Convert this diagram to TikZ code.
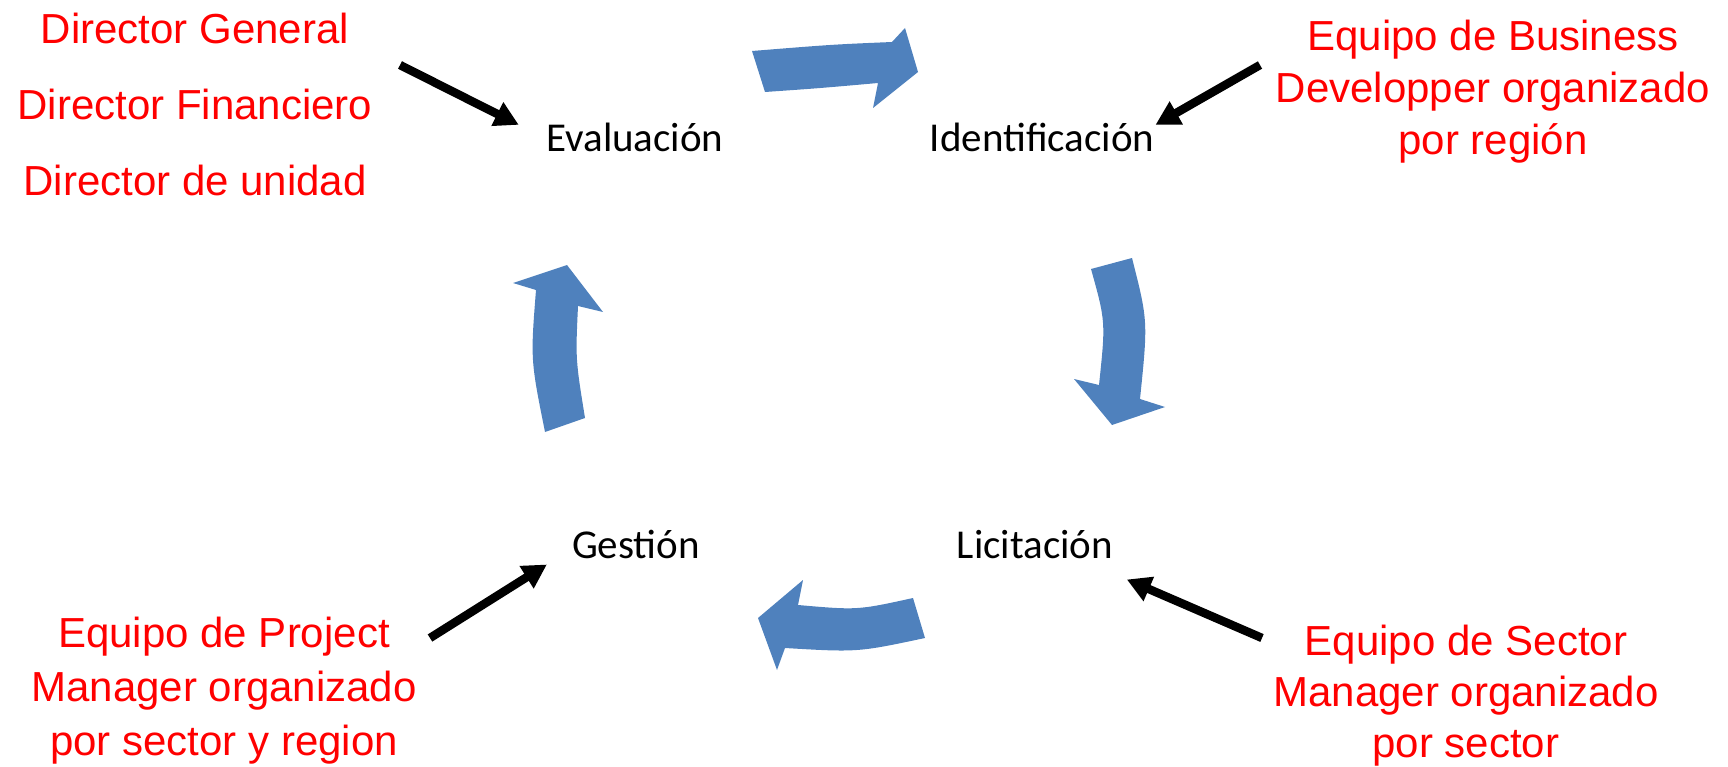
\documentclass[tikz,border=0pt]{standalone}
\usepackage{fontspec}
\setmainfont{Carlito}
\newfontfamily\rolefont{Liberation Sans}
\usetikzlibrary{arrows.meta}
\definecolor{cycleblue}{RGB}{79,129,189}
\definecolor{rolered}{RGB}{255,0,0}
\tikzset{
  phase/.style={anchor=base, inner sep=0pt, font=\fontsize{41}{49}\selectfont},
  role/.style={anchor=base, inner sep=0pt, align=center, text=rolered,
    font=\rolefont\fontsize{42}{52}\selectfont},
  pointer/.style={line width=8.5pt, -{Triangle[length=24pt,width=25pt]}},
  cyclearrow/.style={fill=cycleblue}
}

\begin{document}
\begin{tikzpicture}[x=1pt,y=-1pt]
        \useasboundingbox (0,0) rectangle (1728,767);
        \node[phase] (evaluacion)     at (635,152)  {Evaluación};
        \node[phase] (identificacion) at (1042,152) {Identificación};
        \node[phase] (gestion)        at (636,558)  {Gestión};
        \node[phase] (licitacion)     at (1035,558) {Licitación};
        \node[role, font=\rolefont\fontsize{42}{76}\selectfont] (directores) at (195,196)
            {Director General\\Director Financiero\\Director de unidad};
        \node[role] (business) at (1493,155) {Equipo de Business\\Developper organizado\\por región};
        \node[role, font=\rolefont\fontsize{42}{54}\selectfont] (project) at (224,755)
            {Equipo de Project\\Manager organizado\\por sector y region};
        \node[role, font=\rolefont\fontsize{42}{51}\selectfont] (sector) at (1466,757)
            {Equipo de Sector\\Manager organizado\\por sector};
        \coordinate (dirtail) at (400,65);
        \coordinate (bustail) at (1260,65);
        \coordinate (protail) at (430,638);
        \coordinate (sectail) at (1262,638);
        \draw[pointer] (dirtail) -- ([xshift=-27.5pt,yshift=-1.5pt]evaluacion.north west);
        \draw[pointer] (bustail) -- ([xshift=1pt,yshift=-1.5pt]identificacion.north east);
        \draw[pointer] (protail) -- ([xshift=-25pt,yshift=-6pt]gestion.south west);
        \draw[pointer] (sectail) -- ([xshift=13.5pt,yshift=-21pt]licitacion.south east);
        \fill[cyclearrow] (752,51) .. controls (832.7,44.5) .. (892,42) -- (905,28) -- (918,72)
            -- (873,108) -- (878,83) .. controls (819.5,88.2) .. (765,92) -- cycle;
        \fill[cyclearrow] (1091,269) -- (1132,258) .. controls (1148,321) .. (1140,399)
            -- (1165,407) -- (1112,425) -- (1074,379) -- (1099,385)
            .. controls (1105.7,321.7) .. (1091,269) -- cycle;
        \fill[cyclearrow] (567,265) -- (603,312) -- (578,306) .. controls (575.5,359.3) .. (585,418)
            -- (545,432) .. controls (530.5,359.7) .. (536,290) -- (513,283) -- cycle;
        \fill[cyclearrow] (758,618) -- (803,580) -- (798,605) .. controls (857.5,610.2) .. (913,598)
            -- (925,638) .. controls (857.7,652.3) .. (785,648) -- (777,670) -- cycle;
\end{tikzpicture}
\end{document}
